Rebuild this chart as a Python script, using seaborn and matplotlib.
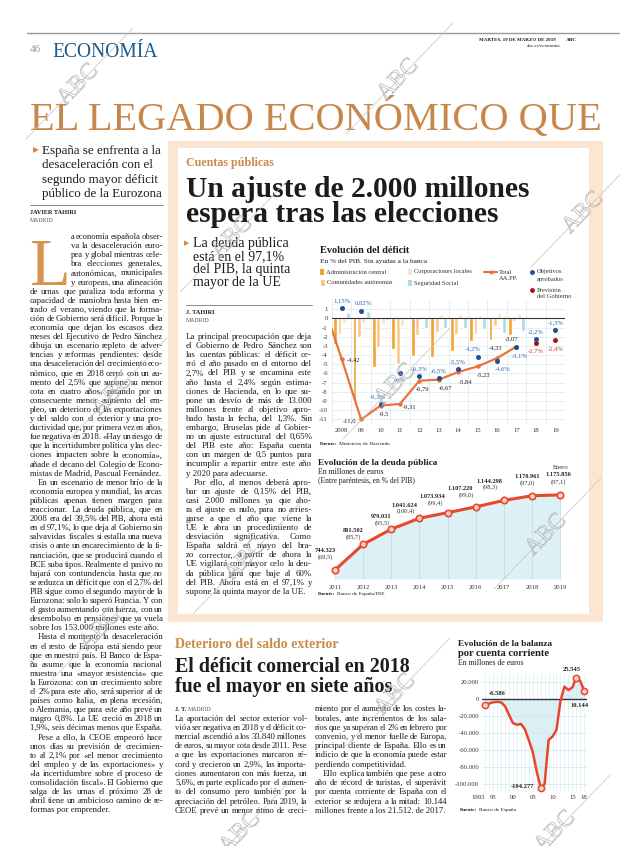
import matplotlib
matplotlib.use("Agg")
import numpy as np
import pandas as pd
import matplotlib.pyplot as plt
import seaborn as sns
import matplotlib.patheffects as pe
from matplotlib.font_manager import FontProperties
from matplotlib.patches import Rectangle
from matplotlib.lines import Line2D

# ---------------- datos: evolución del déficit (% PIB) ----------------
bar_years = list(range(2008, 2018))
adm_central = [-2.8, -9.0, -5.3, -3.3, -4.1, -4.2, -3.5, -2.5, -2.4, -1.8]
ccaa = [-1.7, -2.0, -3.1, -5.0, -1.8, -1.5, -1.7, -1.7, -0.8, -0.3]
ccll = [-0.5, -0.5, -0.6, -0.8, 0.3, 0.5, 0.5, 0.4, 0.6, 0.6]
seg_social = [0.7, 0.8, -0.2, -0.1, -1.0, -1.1, -1.0, -1.2, -1.6, -1.4]
sectores = ["Administración central", "Comunidades autónomas",
            "Corporaciones locales", "Seguridad Social"]
total_years = list(range(2007, 2018))
total_aapp = [1.9, -4.42, -11.0, -9.5, -9.31, -6.79, -6.67, -5.84, -5.23, -4.33, -3.07]
obj_years = list(range(2008, 2020))
objetivos = [1.15, 0.82, -9.3, -6.0, -6.3, -6.5, -5.5, -4.2, -4.6, -3.1, -2.2, -1.3]
prev_years = [2018, 2019]
prevision = [-2.7, -2.4]

# ---------------- datos: deuda pública (millones de euros) ----------------
debt_years = list(range(2011, 2020))
deuda = [744323, 891502, 979031, 1041624, 1073934, 1107220, 1144298, 1170961, 1175856]
deuda_pib = [69.5, 85.7, 95.5, 100.4, 99.4, 99.0, 98.3, 97.0, 97.1]

# ---------------- datos: balanza por cuenta corriente (millones) ----------------
bal_years = list(range(1993, 2019))
balanza = [-6586, -5000, -3500, -3000, -3500, -8000, -18000, -28000, -30000, -29000,
           -35000, -48000, -62000, -85000, -104277, -100000, -48000, -44000, -36000,
           -2000, 15000, 11000, 14000, 25545, 21512, 10144]

# ---------------- textos ----------------
left_paras = [
    ["a economía española obser-", "va la desaceleración euro-", "pea y global mientras cele-",
     "bra elecciones generales,", "autonómicas, municipales", "y europeas, una alineación",
     "de urnas que paraliza toda reforma y", "capacidad de maniobra hasta bien en-",
     "trado el verano, viendo que la forma-", "ción de Gobierno será difícil. Porque la",
     "economía que dejan los escasos diez", "meses del Ejecutivo de Pedro Sánchez",
     "dibuja un escenario repleto de adver-", "tencias y reformas pendientes: desde",
     "una desaceleración del crecimiento eco-", "nómico, que en 2018 cerró con un au-",
     "mento del 2,5% que supone su menor", "cota en cuatro años, pasando por un",
     "consecuente menor aumento del em-", "pleo, un deterioro de las exportaciones",
     "y del saldo con el exterior y una pro-", "ductividad que, por primera vez en años,",
     "fue negativa en 2018. «Hay un riesgo de", "que la incertidumbre política y las elec-",
     "ciones impacten sobre la economía»,", "añade el decano del Colegio de Econo-",
     "mistas de Madrid, Pascual Fernández."],
    ["En un escenario de menor brío de la", "economía europea y mundial, las arcas",
     "públicas apenas tienen margen para", "reaccionar. La deuda pública, que en",
     "2008 era del 39,5% del PIB, ahora está", "en el 97,1%, lo que deja al Gobierno sin",
     "salvavidas fiscales si estalla una nueva", "crisis o ante un encarecimiento de la fi-",
     "nanciación, que se producirá cuando el", "BCE suba tipos. Realmente el pasivo no",
     "bajará con contundencia hasta que no", "se reduzca un déficit que con el 2,7% del",
     "PIB sigue como el segundo mayor de la", "Eurozona: solo lo superó Francia. Y con",
     "el gasto aumentando con fuerza, con un", "desembolso en pensiones que ya vuela",
     "sobre los 153.000 millones este año."],
    ["Hasta el momento la desaceleración", "en el resto de Europa está siendo peor",
     "que en nuestro país. El Banco de Espa-", "ña asume que la economía nacional",
     "muestra una «mayor resistencia» que", "la Eurozona: con un crecimiento sobre",
     "el 2% para este año, será superior al de", "países como Italia, en plena recesión,",
     "o Alemania, que para este año prevé un", "magro 0,8%. La UE creció en 2018 un",
     "1,9%, seis décimas menos que España."],
    ["Pese a ello, la CEOE empeoró hace", "unos días su previsión de crecimien-",
     "to al 2,1% por «el menor crecimiento", "del empleo y de las exportaciones» y",
     "«la incertidumbre sobre el proceso de", "consolidación fiscal». El Gobierno que",
     "salga de las urnas el próximo 28 de", "abril tiene un ambicioso camino de re-",
     "formas por emprender."],
]
mid_paras = [
    ["La principal preocupación que deja", "el Gobierno de Pedro Sánchez son",
     "las cuentas públicas: el déficit ce-", "rró el año pasado en el entorno del",
     "2,7% del PIB y se encamina este", "año hasta el 2,4% según estima-",
     "ciones de Hacienda, en lo que su-", "pone un desvío de más de 13.000",
     "millones frente al objetivo apro-", "bado hasta la fecha, del 1,3%. Sin",
     "embargo, Bruselas pide al Gobier-", "no un ajuste estructural del 0,65%",
     "del PIB este año: España cuenta", "con un margen de 0,5 puntos para",
     "incumplir a repartir entre este año", "y 2020 para adecuarse."],
    ["Por ello, al menos deberá apro-", "bar un ajuste de 0,15% del PIB,",
     "casi 2.000 millones ya que aho-", "ra el ajuste es nulo, para no arries-",
     "garse a que el año que viene la", "UE le abra un procedimiento de",
     "desviación significativa. Como", "España saldrá en mayo del bra-",
     "zo corrector, a partir de ahora la", "UE vigilará con mayor celo la deu-",
     "da pública para que baje al 60%", "del PIB. Ahora está en el 97,1% y",
     "supone la quinta mayor de la UE."],
]
ext_col1 = [
    ["La aportación del sector exterior vol-", "vió a ser negativa en 2018 y el déficit co-",
     "mercial ascendió a los 33.840 millones", "de euros, su mayor cota desde 2011. Pese",
     "a que las exportaciones marcaron ré-", "cord y crecieron un 2,9%, las importa-",
     "ciones aumentaron con más fuerza, un", "5,6%, en parte explicado por el aumen-",
     "to del consumo pero también por la", "apreciación del petróleo. Para 2019, la",
     "CEOE prevé un menor ritmo de creci-", ""],
]
ext_col2 = [
    ["miento por el aumento de los costes la-", "borales, ante incrementos de los sala-",
     "rios que ya superan el 2% en febrero por", "convenio, y el menor fuelle de Europa,",
     "principal cliente de España. Ello es un", "indicio de que la economía puede estar",
     "perdiendo competitividad."],
    ["Ello explica también que pese a otro", "año de récord de turistas, el superávit",
     "por cuenta corriente de España con el", "exterior se redujera a la mitad: 10.144",
     "millones frente a los 21.512. de 2017."],
]

# ---------------- estilo ----------------
W, H = 620, 846
sns.set_theme(style="white")
SERIF = ["Liberation Serif", "DejaVu Serif", "DejaVu Sans"]
plt.rcParams["font.family"] = SERIF
INK = "#1e1b1c"
ORANGE = "#c8874a"
C_CENTRAL, C_CCAA, C_CCLL, C_SS = "#f0a131", "#f8c98a", "#fbe2c2", "#a9dce3"
C_TOTAL, C_OBJ, C_PREV = "#e8743b", "#1f4e9c", "#a3161f"
RED = "#e8472d"
GRID = "#d9e9ef"

fig = plt.figure(figsize=(6.2, 8.46), dpi=100)
renderer = fig.canvas.get_renderer()


def T(x, y, s, size, weight="normal", color=INK, ha="left", va="center", family=None, **kw):
    return fig.text(x / W, 1 - y / H, s, fontsize=size, fontweight=weight, color=color,
                    ha=ha, va=va, family=family or SERIF, **kw)


def tw(s, size, weight="normal"):
    fp = FontProperties(family="Liberation Serif", size=size, weight=weight)
    return renderer.get_text_width_height_descent(s, fp, ismath=False)[0]


def fit(x, y, s, width, weight="normal", color=INK, va="baseline", **kw):
    size = 10 * width / tw(s, 10, weight)
    T(x, y, s, size, weight, color, va=va, **kw)
    return size


def hline(x0, x1, y, color="#777", lw=0.6):
    fig.add_artist(Line2D([x0 / W, x1 / W], [1 - y / H] * 2, transform=fig.transFigure,
                          color=color, lw=lw))


def line_left(i, j, p, x0, drop, drop_x, indent):
    left = drop_x if i < drop else x0
    if j == 0 and p > 0:
        left += indent
    return left


def column(paras, x0, x1, y0, dy, base, drop=0, drop_x=0, indent=8):
    # font size chosen so most lines fit with ordinary word spacing
    ks, i = [], 0
    for p, para in enumerate(paras):
        for j, line in enumerate(para):
            words = line.split()
            left = line_left(i, j, p, x0, drop, drop_x, indent)
            if j < len(para) - 1 and len(words) > 1:
                ks.append((x1 - left - 1.6 * (len(words) - 1)) / sum(tw(w, base) for w in words))
            i += 1
    size = base * min(1.0, np.percentile(ks, 30))
    i = 0
    for p, para in enumerate(paras):
        for j, line in enumerate(para):
            y = y0 + i * dy
            left = line_left(i, j, p, x0, drop, drop_x, indent)
            words = line.split()
            avail = x1 - left
            if not words:
                i += 1
                continue
            if j == len(para) - 1 or len(words) == 1:
                s = size if tw(line, size) <= avail else size * avail / tw(line, size)
                T(left, y, line, s)
            else:
                ws = [tw(w, size) for w in words]
                s = size
                gap = (avail - sum(ws)) / (len(words) - 1)
                if gap < 0.9:
                    s = size * (avail - 0.9 * (len(words) - 1)) / sum(ws)
                    ws = [tw(w, s) for w in words]
                    gap = (avail - sum(ws)) / (len(words) - 1)
                xx = left
                for w_, wd in zip(words, ws):
                    T(xx, y, w_, s)
                    xx += wd + gap
            i += 1


def fuente(x, y, rest, size=3.9):
    T(x, y, "Fuente:", size, "bold")
    T(x + tw("Fuente: ", size, "bold"), y, rest, size)


# ---------------- cabecera ----------------
hline(27, 620, 33, "#9a9a9a", 1.0)
T(30, 52, "46", 8, color="#9a9a9a", va="baseline")
fit(52, 57, "ECONOMÍA", 106, color="#1c5b8e")
T(556, 40, "MARTES, 19 DE MARZO DE 2019", 3.6, "bold", ha="right")
T(566, 40, "ABC", 3.8, "bold")
T(560, 46, "abc.es/economia", 3.6, ha="right")
fit(30, 130, "EL LEGADO ECONÓMICO QUE", 575, color=ORANGE)

# ---------------- columna izquierda ----------------
T(33, 150, "▶", 5.5, color="#d18a45", family="DejaVu Sans")
sub = fit(42, 154, "España se enfrenta a la", 120)
for k, s in enumerate(["desaceleración con el", "segundo mayor déficit", "público de la Eurozona"]):
    T(42, 154 + 14.3 * (k + 1), s, sub, va="baseline")
hline(30, 163, 205)
T(30, 212, "JAVIER TAHIRI", 4.6, "bold")
T(30, 221, "MADRID", 4.2, color="#555")
T(29, 285, "L", 48, color="#d6944c", va="baseline")
column(left_paras, 30, 163, 237, 9.1, 6.4, drop=6, drop_x=71)

# ---------------- recuadro cuentas públicas ----------------
fig.add_artist(Rectangle((168 / W, 1 - 622 / H), (603 - 168) / W, (622 - 141) / H,
                         transform=fig.transFigure, facecolor="#fde6d1", edgecolor="none", zorder=-2))
fig.add_artist(Rectangle((178 / W, 1 - 614 / H), (589 - 178) / W, (614 - 148) / H,
                         transform=fig.transFigure, facecolor="white", edgecolor="none", zorder=-1))
fit(186, 166, "Cuentas públicas", 88, "bold", color="#c98b4d")
hs = fit(186, 197, "Un ajuste de 2.000 millones", 345, "bold")
T(186, 222, "espera tras las elecciones", hs, "bold", va="baseline")

T(184, 243, "▶", 5, color="#d18a45", family="DejaVu Sans")
bs = fit(193, 247, "La deuda pública", 96)
for k, s in enumerate(["está en el 97,1%", "del PIB, la quinta", "mayor de la UE"]):
    T(193, 247 + 13 * (k + 1), s, bs, va="baseline")
hline(186, 312, 305)
T(186, 312, "J. TAHIRI", 4.6, "bold")
T(186, 320, "MADRID", 4.2, color="#555")
column(mid_paras, 186, 312, 337, 9.1, 6.4)

# ---------------- gráfico: evolución del déficit ----------------
fit(320, 253, "Evolución del déficit", 90, "bold")
fit(320, 263, "En % del PIB. Sin ayudas a la banca", 107)
leg_sq = [(320, 272, C_CENTRAL, sectores[0]), (321, 283, C_CCAA, sectores[1]),
          (408, 272, C_CCLL, sectores[2]), (408, 283, C_SS, sectores[3])]
for x, y, c, lab in leg_sq:
    fig.add_artist(Rectangle((x / W, 1 - (y + 3) / H), 3.5 / W, 6 / H,
                             transform=fig.transFigure, facecolor=c, edgecolor="none"))
    T(x + 6, y, lab, 4.7, color="#333")
fig.add_artist(Line2D([484 / W, 497 / W], [1 - 272 / H] * 2, transform=fig.transFigure,
                      color=C_TOTAL, lw=1.6))
fig.add_artist(Line2D([490.5 / W], [1 - 272 / H], transform=fig.transFigure,
                      color=C_TOTAL, marker="o", ms=2.8, mew=0))
T(499, 272, "Total", 4.7, color="#333")
T(499, 279, "AA.PP.", 4.7, color="#333")
for y, c, l1, l2 in [(272, C_OBJ, "Objetivos", "aprobados"), (290, C_PREV, "Previsión", "del Gobierno")]:
    fig.add_artist(Line2D([532 / W], [1 - y / H], transform=fig.transFigure,
                          color=c, marker="o", ms=3.5, mew=0))
    T(537, y, l1, 4.7, color="#333")
    T(537, y + 7, l2, 4.7, color="#333")

ax1 = fig.add_axes([332 / W, 1 - 424 / H, (565 - 332) / W, (424 - 300) / H])
ax1.set_facecolor("none")
df_bars = pd.DataFrame({
    "year": bar_years * 4,
    "valor": adm_central + ccaa + ccll + seg_social,
    "sector": [s for s in sectores for _ in bar_years],
})
sns.barplot(data=df_bars, x="year", y="valor", hue="sector", hue_order=sectores,
            palette=[C_CENTRAL, C_CCAA, C_CCLL, C_SS], native_scale=True, width=0.9,
            gap=0.12, saturation=1, errorbar=None, legend=False, ax=ax1, zorder=2)
sns.lineplot(x=total_years, y=total_aapp, ax=ax1, color=C_TOTAL, linewidth=1.6,
             marker="o", markersize=3.2, markeredgewidth=0, zorder=4)
sns.scatterplot(x=obj_years, y=objetivos, ax=ax1, color=C_OBJ, s=13, linewidth=0, zorder=5)
sns.scatterplot(x=prev_years, y=prevision, ax=ax1, color=C_PREV, s=13, linewidth=0, zorder=5)
ax1.axhline(0, color="#333", lw=0.8, zorder=3)
ax1.set_xlim(2007.5, 2019.5)
ax1.set_ylim(-11.5, 2.0)
ax1.set_yticks(range(-11, 2))
ax1.set_yticklabels([str(v) for v in range(-11, 2)])
ax1.set_xticks(obj_years)
ax1.set_xticklabels([str(y) if y == 2008 else f"{y % 100:02d}" for y in obj_years])
ax1.grid(axis="y", color=GRID, lw=0.5)
for xg in np.arange(2007.5, 2020, 1):
    ax1.axvline(xg, color=GRID, lw=0.5, zorder=0)
ax1.set_axisbelow(True)
ax1.tick_params(length=0, labelsize=4.8, colors="#333", pad=3)
ax1.set_xlabel("")
ax1.set_ylabel("")
for s in ax1.spines.values():
    s.set_visible(False)

px = 0.72  # px -> pt
tot_off = [(12, 1), (-12, 1), (3, 8), (10, 3), (3, 8), (7, 8), (7, 10), (6, 8), (-2, -10), (-5, -8)]
for yv, v, (dx, dy) in zip(total_years[1:], total_aapp[1:], tot_off):
    ax1.annotate(str(v).replace(".", ","), (yv, v), xytext=(dx * px, -dy * px),
                 textcoords="offset points", ha="center", va="center", fontsize=4.7, color="#222")
obj_off = [(0, -7), (2, -8), (-3, -7), (0, 7), (0, -7), (0, -7), (-1, -7), (-5, -8),
           (6, 8), (3, 9), (0, -7), (0, -7)]
for yv, v, (dx, dy) in zip(obj_years, objetivos, obj_off):
    ax1.annotate(f"{v:g}".replace(".", ",") + "%", (yv, v), xytext=(dx * px, -dy * px),
                 textcoords="offset points", ha="center", va="center", fontsize=4.7,
                 color="#3562ad", annotation_clip=False)
for yv, v in zip(prev_years, prevision):
    ax1.annotate(f"{v:g}".replace(".", ",") + "%", (yv, v), xytext=(0, -8 * px),
                 textcoords="offset points", ha="center", va="center", fontsize=4.7, color="#c0392b")
fuente(320, 444, "Ministerio de Hacienda")

# ---------------- gráfico: deuda pública ----------------
fit(318, 465, "Evolución de la deuda pública", 119, "bold")
fit(318, 474, "En millones de euros", 65)
fit(318, 483, "(Entre paréntesis, en % del PIB)", 97)
ax2 = fig.add_axes([322 / W, 1 - 579 / H, (568 - 322) / W, (579 - 488) / H])
ax2.set_facecolor("none")
y0 = 692600
ax2.fill_between(debt_years, deuda, y0, color="#dcf0f5", lw=0, zorder=0)
ax2.vlines(debt_years, y0, deuda, color="#bfe0e8", lw=0.6, zorder=1)
sns.lineplot(x=debt_years, y=deuda, ax=ax2, color=RED, linewidth=2.2, marker="o",
             markersize=4.6, markerfacecolor="#fbd3c6", markeredgecolor=RED,
             markeredgewidth=1.2, zorder=3)
ax2.set_xlim(2010.54, 2019.28)
ax2.set_ylim(y0, 1215600)
ax2.set_xticks(debt_years)
ax2.set_xticklabels([str(y) for y in debt_years])
ax2.set_yticks([])
ax2.tick_params(length=0, labelsize=4.8, colors="#333", pad=4)
ax2.set_xlabel("")
ax2.set_ylabel("")
for s in ax2.spines.values():
    s.set_visible(False)
val_off = [(-10, -20), (-10, -14), (-10, -13), (-15, -13), (-15, -16), (-16, -18),
           (-14, -19), (-5, -19), (-2, -20)]
pct_off = [(-10, -13), (-10, -7), (-9, -6), (-13, -7), (-12, -10), (-9, -12),
           (-13, -13), (-5, -13), (-2, -13)]
for yv, v, p, vo, po in zip(debt_years, deuda, deuda_pib, val_off, pct_off):
    ax2.annotate(f"{v:,}".replace(",", "."), (yv, v), xytext=(vo[0] * px, -vo[1] * px),
                 textcoords="offset points", ha="center", va="center", fontsize=4.6,
                 fontweight="bold", color="#222", annotation_clip=False)
    ax2.annotate(f"({p:.1f})".replace(".", ","), (yv, v), xytext=(po[0] * px, -po[1] * px),
                 textcoords="offset points", ha="center", va="center", fontsize=4.6,
                 color="#333", annotation_clip=False)
ax2.annotate("Enero", (debt_years[-1], deuda[-1]), xytext=(1 * px, 27 * px),
             textcoords="offset points", ha="center", va="center", fontsize=4.8,
             color="#333", annotation_clip=False)
fuente(318, 594, "Banco de España/INE")

# ---------------- artículo inferior ----------------
fit(175, 648, "Deterioro del saldo exterior", 163, "bold", color="#c98b4d")
es = fit(175, 672, "El déficit comercial en 2018", 236, "bold")
T(175, 692, "fue el mayor en siete años", es, "bold", va="baseline")
T(175, 709, "J. T.", 4.6, "bold")
T(175 + tw("J. T. ", 4.6, "bold"), 709, "MADRID", 4.2, color="#555")
column(ext_col1, 175, 307, 718.5, 9.24, 6.4)
column(ext_col2, 315, 447, 709.3, 9.22, 6.4)

# ---------------- gráfico: balanza por cuenta corriente ----------------
fit(458, 646, "Evolución de la balanza", 94, "bold")
fit(458, 656, "por cuenta corriente", 92, "bold")
fit(458, 665, "En millones de euros", 65)
ax3 = fig.add_axes([482 / W, 1 - 792 / H, (587 - 482) / W, (792 - 674) / H])
ax3.set_facecolor("none")
ax3.fill_between(bal_years, balanza, 0, color="#dcf0f5", lw=0, zorder=0)
for xg in bal_years:
    ax3.axvline(xg, color="#d3eaf0", lw=0.4, zorder=0.5)
sns.lineplot(x=bal_years, y=balanza, ax=ax3, color=RED, linewidth=1.8, zorder=3)
ext_idx = [0, balanza.index(min(balanza)), balanza.index(max(balanza)), len(balanza) - 1]
sns.scatterplot(x=[bal_years[i] for i in ext_idx], y=[balanza[i] for i in ext_idx], ax=ax3,
                s=20, facecolor="#fbd3c6", edgecolor=RED, linewidth=1.1, zorder=4, clip_on=False)
ax3.axhline(0, color="#333", lw=1.0, zorder=2)
ax3.set_xlim(1992.2, 2018.7)
ax3.set_ylim(-109400, 29900)
bal_ticks = list(range(-100000, 20001, 20000))
ax3.set_yticks(bal_ticks)
ax3.set_yticklabels([f"{v:,}".replace(",", ".") for v in bal_ticks])
bal_xt = [1993, 1995, 2000, 2005, 2010, 2015, 2018]
ax3.set_xticks(bal_xt)
ax3.set_xticklabels([str(y) if y == 1993 else f"{y % 100:02d}" for y in bal_xt])
ax3.get_xticklabels()[0].set_ha("right")
ax3.grid(axis="y", color="#cfe6ec", lw=0.5)
ax3.set_axisbelow(True)
ax3.tick_params(length=0, labelsize=4.8, colors="#333", pad=2)
ax3.set_xlabel("")
ax3.set_ylabel("")
for s in ax3.spines.values():
    s.set_visible(False)
bal_off = [(12, -11), (-18, -1), (-5, -8), (-5, 15)]
for i, (dx, dy) in zip(ext_idx, bal_off):
    ax3.annotate(f"{balanza[i]:,}".replace(",", "."), (bal_years[i], balanza[i]),
                 xytext=(dx * px, -dy * px), textcoords="offset points", ha="center",
                 va="center", fontsize=4.7, fontweight="bold", color="#222",
                 annotation_clip=False)
fuente(460, 810, "Banco de España")

# ---------------- marcas de agua ----------------
marks = [(78, 85), (398, 80), (583, 213), (232, 238), (395, 385), (546, 535),
         (112, 395), (100, 630), (245, 560), (395, 695), (240, 833), (555, 832)]
for cx, cy in marks:
    fig.add_artist(Line2D([(cx - 52) / W, (cx + 55) / W], [1 - (cy + 54) / H, 1 - (cy - 57) / H],
                          transform=fig.transFigure, color="#c4c4c4", lw=0.5, zorder=10))
    t = T(cx, cy, "ABC", 17, color=(1, 1, 1, 0), ha="center", rotation=46, zorder=10)
    t.set_path_effects([pe.Stroke(linewidth=0.5, foreground="#b4b4b4")])

fig.savefig("out.png", dpi=100)
